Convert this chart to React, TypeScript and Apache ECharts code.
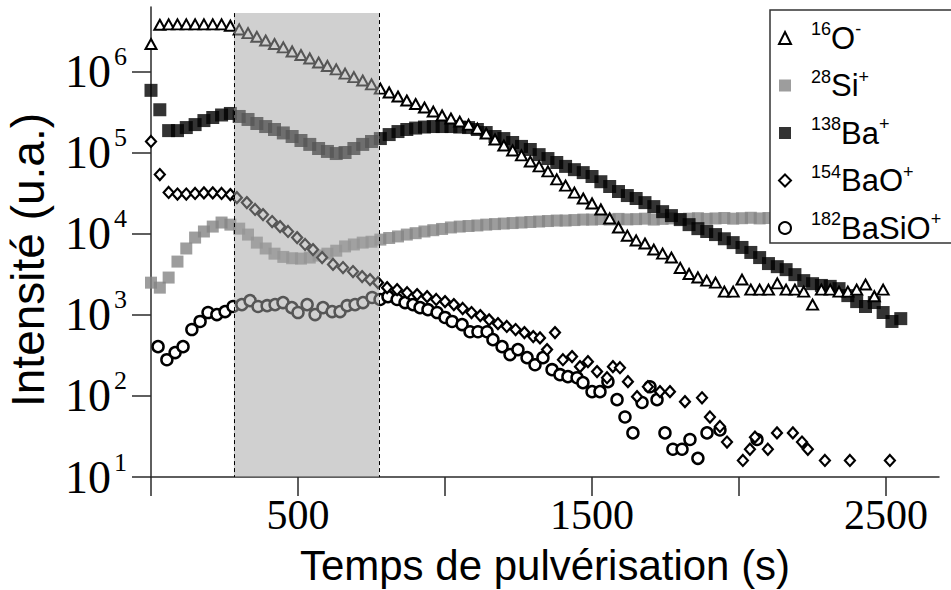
import { useEffect, useRef } from 'react';
import * as echarts from 'echarts';

// ---------- data ----------
const TIME = [0, 30, 60, 90, 120, 150, 180, 210, 240, 270, 300, 330, 360, 390, 420, 450, 480, 510, 540, 570, 600, 630, 660, 690, 720, 750, 780, 810, 840, 870, 900, 930, 960, 990, 1020, 1050, 1080, 1110, 1140, 1170, 1200, 1230, 1260, 1290, 1320, 1350, 1380, 1410, 1440, 1470, 1500, 1530, 1560, 1590, 1620, 1650, 1680, 1710, 1740, 1770, 1800, 1830, 1860, 1890, 1920, 1950, 1980, 2010, 2040, 2070, 2100, 2130, 2160, 2190, 2220, 2250, 2280, 2310, 2340, 2370, 2400, 2430, 2460, 2490, 2520, 2550];

const O_MINUS = [2.2e6, 3.8e6, 3.85e6, 3.85e6, 3.85e6, 3.85e6, 3.85e6, 3.85e6, 3.85e6, 3.7e6, 3.33e6, 3.0e6, 2.7e6, 2.43e6, 2.2e6, 2.0e6, 1.78e6, 1.61e6, 1.46e6, 1.3e6, 1.18e6, 1.07e6, 9.5e5, 8.6e5, 7.8e5, 7.0e5, 6.2e5, 5.55e5, 4.95e5, 4.42e5, 4.0e5, 3.62e5, 3.23e5, 2.89e5, 2.65e5, 2.43e5, 2.23e5, 1.99e5, 1.73e5, 1.46e5, 1.23e5, 1.07e5, 9.3e4, 7.8e4, 6.8e4, 5.9e4, 4.7e4, 3.94e4, 3.23e4, 2.73e4, 2.37e4, 2.0e4, 1.55e4, 1.2e4, 9.5e3, 8.3e3, 7.6e3, 6.4e3, 5.7e3, 5.1e3, 3.8e3, 3.2e3, 2.9e3, 2.65e3, 2.5e3, 1.94e3, 1.94e3, 2.73e3, 2.05e3, 2.05e3, 2.05e3, 2.45e3, 2.05e3, 2.05e3, 1.94e3, 1.34e3, 2.05e3, 2.05e3, 1.94e3, 1.94e3, 2.05e3, 2.37e3, 1.7e3, 2.05e3, null, null];

const SI_PLUS = [2.5e3, 2.17e3, 2.89e3, 4.55e3, 6.6e3, 9.0e3, 1.07e4, 1.23e4, 1.38e4, 1.3e4, 1.16e4, 9.8e3, 7.8e3, 6.6e3, 5.7e3, 5.2e3, 5.0e3, 4.95e3, 5.1e3, 5.4e3, 5.7e3, 6.2e3, 7.0e3, 7.4e3, 7.8e3, 8.0e3, 8.5e3, 8.9e3, 9.3e3, 9.8e3, 1.02e4, 1.07e4, 1.11e4, 1.15e4, 1.2e4, 1.23e4, 1.25e4, 1.27e4, 1.3e4, 1.32e4, 1.34e4, 1.36e4, 1.38e4, 1.4e4, 1.42e4, 1.44e4, 1.46e4, 1.46e4, 1.48e4, 1.5e4, 1.5e4, 1.52e4, 1.5e4, 1.53e4, 1.51e4, 1.52e4, 1.54e4, 1.5e4, 1.53e4, 1.55e4, 1.52e4, 1.54e4, 1.56e4, 1.53e4, 1.55e4, 1.57e4, 1.54e4, 1.56e4, 1.58e4, 1.55e4, 1.57e4, 1.58e4, 1.6e4, 1.57e4, 1.59e4, 1.61e4, 1.6e4, 1.62e4, 1.6e4, 1.63e4, 1.61e4, 1.62e4, 1.64e4, 1.62e4, 1.63e4, 1.65e4];

const BA_PLUS = [5.9e5, 3.4e5, 1.88e5, 1.88e5, 2.05e5, 2.23e5, 2.5e5, 2.73e5, 2.93e5, 3.06e5, 2.81e5, 2.58e5, 2.3e5, 2.11e5, 1.94e5, 1.76e5, 1.59e5, 1.42e5, 1.27e5, 1.13e5, 1.04e5, 9.8e4, 1.01e5, 1.13e5, 1.27e5, 1.38e5, 1.5e5, 1.68e5, 1.83e5, 1.94e5, 2.02e5, 2.08e5, 2.11e5, 2.11e5, 2.11e5, 2.08e5, 2.05e5, 1.94e5, 1.78e5, 1.59e5, 1.5e5, 1.34e5, 1.2e5, 1.1e5, 9.5e4, 8.5e4, 7.6e4, 6.8e4, 6.2e4, 5.7e4, 5.1e4, 4.4e4, 3.84e4, 3.33e4, 2.97e4, 2.73e4, 2.43e4, 2.17e4, 1.88e4, 1.68e4, 1.5e4, 1.3e4, 1.16e4, 1.07e4, 9.8e3, 8.7e3, 7.8e3, 6.8e3, 5.9e3, 5.1e3, 4.3e3, 3.94e3, 3.62e3, 3.14e3, 2.65e3, 2.43e3, 2.31e3, 2.25e3, 2.11e3, 1.73e3, 1.46e3, 1.27e3, 1.42e3, 1.07e3, 8.3e2, 9.0e2];

const BAO_TIME = [0, 30, 60, 90, 120, 150, 180, 210, 240, 270, 292, 326, 354, 381, 412, 439, 466, 497, 524, 551, 582, 619, 653, 687, 718, 745, 772, 803, 837, 871, 905, 939, 970, 1000, 1030, 1060, 1090, 1120, 1150, 1180, 1210, 1240, 1270, 1300, 1323, 1347, 1374, 1401, 1432, 1459, 1486, 1517, 1551, 1571, 1595, 1622, 1653, 1690, 1731, 1765, 1816, 1874, 1901, 1935, 1959, 2013, 2037, 2054, 2098, 2129, 2183, 2214, 2234, 2292, 2377, 2513];
const BAO_PLUS = [1.38e5, 5.4e4, 3.24e4, 3.1e4, 3.1e4, 3.15e4, 3.2e4, 3.2e4, 3.15e4, 3.05e4, 2.8e4, 2.43e4, 2.0e4, 1.73e4, 1.42e4, 1.23e4, 1.07e4, 9.0e3, 7.4e3, 6.4e3, 5.1e3, 4.2e3, 3.84e3, 3.43e3, 2.97e3, 2.73e3, 2.5e3, 2.17e3, 2.05e3, 1.88e3, 1.78e3, 1.68e3, 1.55e3, 1.46e3, 1.34e3, 1.2e3, 1.07e3, 980, 870, 780, 720, 660, 605, 540, 520, 373, 605, 280, 306, 230, 265, 200, 168, 230, 223, 150, 98, 130, 113, 113, 85, 95, 55, 42, 27, 16, 22, 31, 22, 35, 35, 27, 22, 16, 16, 16];

const BASIO_TIME = [24, 54, 82, 109, 139, 167, 194, 224, 252, 279, 309, 337, 364, 395, 422, 449, 479, 500, 531, 558, 585, 616, 643, 667, 694, 721, 752, 779, 806, 837, 864, 891, 915, 942, 973, 1000, 1024, 1058, 1085, 1112, 1143, 1163, 1194, 1221, 1248, 1279, 1306, 1333, 1364, 1391, 1418, 1449, 1469, 1500, 1527, 1554, 1585, 1612, 1639, 1670, 1697, 1721, 1748, 1775, 1806, 1833, 1860, 1891, 1935, 2061];
const BASIO_PLUS = [406, 280, 343, 406, 660, 830, 1070, 1010, 1100, 1270, 1340, 1500, 1270, 1300, 1340, 1420, 1230, 1070, 1340, 1010, 1230, 1100, 1100, 1300, 1340, 1420, 1640, 1550, 1680, 1550, 1420, 1340, 1230, 1160, 1070, 930, 830, 760, 620, 620, 620, 495, 406, 324, 373, 297, 243, 297, 211, 183, 173, 168, 146, 113, 113, 150, 90, 55, 35, 83, 130, 90, 35, 22, 22, 29, 17, 35, 38, 29];

const X_TICKS = [0, 500, 1000, 1500, 2000, 2500];
const X_LABELS = [500, 1500, 2500];
const Y_TICKS = [10, 100, 1000, 10000, 100000, 1000000];
const X_MAX = 2680;
const Y_MIN = 10;
const Y_MAX = 6.3e6;
const BAND_START = 282;
const BAND_END = 776;
const BAND_TOP = 5.3e6;

const NAMES = ['16O-', '28Si+', '138Ba+', '154BaO+', '182BaSiO+'];
const LEGEND_PARTS: Record<string, [string, string, string]> = {
  '16O-': ['16', 'O', '-'],
  '28Si+': ['28', 'Si', '+'],
  '138Ba+': ['138', 'Ba', '+'],
  '154BaO+': ['154', 'BaO', '+'],
  '182BaSiO+': ['182', 'BaSiO', '+'],
};

const pairs = (ts: number[], vs: (number | null)[]) =>
  ts.map((t, i) => [t, vs[i]]).filter((p) => p[1] != null);

const AXIS_COLOR = '#2a2a2a';

function buildOption(): any {
  const hollow = (w: number) => ({ color: '#ffffff', borderColor: '#000000', borderWidth: w, opacity: 1 });
  return {
    animation: false,
    backgroundColor: '#ffffff',
    grid: { left: 151, right: 12, top: 7, bottom: 113, containLabel: false, outerBoundsMode: 'none' },
    xAxis: {
      type: 'value',
      min: 0,
      max: X_MAX,
      splitLine: { show: false },
      axisLine: { show: true, lineStyle: { color: AXIS_COLOR, width: 1.5 } },
      axisTick: { show: true, customValues: X_TICKS, length: 19, lineStyle: { color: AXIS_COLOR, width: 1.5 } },
      axisLabel: {
        customValues: X_LABELS,
        formatter: (v: number) => String(v),
        fontFamily: 'Liberation Serif',
        fontSize: 42,
        lineHeight: 34,
        color: '#000',
        margin: 21,
      },
      name: 'Temps de pulvérisation (s)',
      nameLocation: 'middle',
      nameGap: 68,
      nameMoveOverlap: false,
      nameTextStyle: { fontFamily: 'Liberation Sans', fontSize: 42, lineHeight: 40, color: '#000' },
    },
    yAxis: {
      type: 'log',
      logBase: 10,
      min: Y_MIN,
      max: Y_MAX,
      splitLine: { show: false },
      axisLine: { show: true, lineStyle: { color: AXIS_COLOR, width: 1.5 } },
      axisTick: { show: true, customValues: Y_TICKS, length: 19, lineStyle: { color: AXIS_COLOR, width: 1.5 } },
      axisLabel: {
        customValues: Y_TICKS,
        margin: 24,
        formatter: (v: number) => `{b|10}{e|${Math.round(Math.log10(v))}}`,
        rich: {
          b: { fontFamily: 'Liberation Serif', fontSize: 46, lineHeight: 56, color: '#000' },
          e: { fontFamily: 'Liberation Serif', fontSize: 26, verticalAlign: 'top', color: '#000', padding: [0, 0, 0, 3] },
        },
      },
      name: 'Intensité (u.a.)',
      nameLocation: 'middle',
      nameRotate: 90,
      nameGap: 100,
      nameTextStyle: { fontFamily: 'Liberation Sans', fontSize: 46, color: '#000', padding: [0, 36, 0, 0] },
    },
    legend: {
      orient: 'vertical',
      left: 778,
      top: 20,
      padding: 0,
      itemGap: 14,
      itemWidth: 12,
      itemHeight: 12,
      z: 30,
      data: [
        { name: NAMES[0], icon: 'triangle' },
        { name: NAMES[1], icon: 'rect' },
        { name: NAMES[2], icon: 'rect' },
        { name: NAMES[3], icon: 'diamond' },
        { name: NAMES[4], icon: 'circle' },
      ],
      formatter: (name: string) => {
        const p = LEGEND_PARTS[name];
        return `{g|}{s|${p[0]}}{m|${p[1]}}{s|${p[2]}}`;
      },
      textStyle: {
        rich: {
          g: { width: 15, lineHeight: 36 },
          s: { fontFamily: 'Liberation Sans', fontSize: 18, verticalAlign: 'top', color: '#000' },
          m: { fontFamily: 'Liberation Sans', fontSize: 31, lineHeight: 36, color: '#000' },
        },
      },
    },
    graphic: [
      {
        type: 'rect',
        z: 20,
        shape: { x: 770, y: 10, width: 200, height: 233 },
        style: { fill: '#ffffff', stroke: '#333333', lineWidth: 1.5 },
        silent: true,
      },
    ],
    series: [
      {
        name: NAMES[1],
        type: 'scatter',
        symbol: 'rect',
        symbolSize: 12,
        itemStyle: { color: '#858585' },
        data: pairs(TIME, SI_PLUS),
        z: 2,
      },
      {
        name: NAMES[2],
        type: 'scatter',
        symbol: 'rect',
        symbolSize: 13,
        itemStyle: { color: '#000000' },
        data: pairs(TIME, BA_PLUS),
        z: 3,
      },
      {
        name: NAMES[4],
        type: 'scatter',
        symbol: 'circle',
        symbolSize: 11,
        itemStyle: hollow(2.5),
        data: pairs(BASIO_TIME, BASIO_PLUS),
        z: 4,
      },
      {
        name: NAMES[3],
        type: 'scatter',
        symbol: 'diamond',
        symbolSize: [10, 11],
        itemStyle: hollow(2.2),
        data: pairs(BAO_TIME, BAO_PLUS),
        z: 5,
      },
      {
        name: NAMES[0],
        type: 'scatter',
        symbol: 'triangle',
        symbolSize: [11, 10],
        itemStyle: hollow(2),
        data: pairs(TIME, O_MINUS),
        z: 6,
      },
      {
        name: 'band',
        type: 'line',
        data: [],
        z: 10,
        silent: true,
        markArea: {
          z: 10,
          silent: true,
          itemStyle: { color: 'rgba(164,164,164,0.52)', borderWidth: 0 },
          data: [[{ coord: [BAND_START, BAND_TOP] }, { coord: [BAND_END, Y_MIN] }]],
        },
        markLine: {
          z: 11,
          silent: true,
          symbol: ['none', 'none'],
          label: { show: false },
          lineStyle: { color: '#000', type: [4, 3], width: 1 },
          data: [
            [{ coord: [BAND_START, BAND_TOP] }, { coord: [BAND_START, Y_MIN] }],
            [{ coord: [BAND_END, BAND_TOP] }, { coord: [BAND_END, Y_MIN] }],
          ],
        },
      },
    ],
  };
}

export default function App() {
  const ref = useRef<HTMLDivElement>(null);
  useEffect(() => {
    const chart = echarts.init(ref.current!, null, { renderer: 'svg' });
    chart.setOption(buildOption());
    return () => chart.dispose();
  }, []);
  return (
    <div
      ref={ref}
      style={{ position: 'fixed', left: 0, top: 0, width: 951, height: 590, background: '#fff' }}
    />
  );
}
